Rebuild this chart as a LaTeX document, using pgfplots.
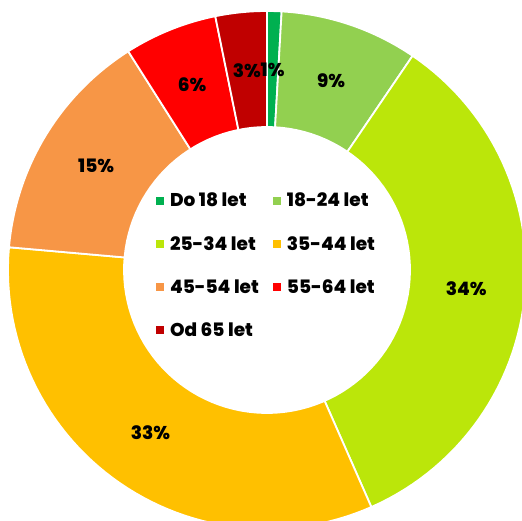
\documentclass[border=0pt]{standalone}
\usepackage{pgfplots}
\pgfplotsset{compat=1.18}
\usepackage{fontspec}
\setmainfont{Poppins}[BoldFont={Poppins ExtraBold}]
\definecolor{c1}{HTML}{00B050}
\definecolor{c2}{HTML}{92D050}
\definecolor{c3}{HTML}{BBE60A}
\definecolor{c4}{HTML}{FFC000}
\definecolor{c5}{HTML}{F79646}
\definecolor{c6}{HTML}{FF0000}
\definecolor{c7}{HTML}{C00000}
\begin{document}
\begin{tikzpicture}
\begin{axis}[
  hide axis, scale only axis, width=522pt, height=520pt,
  xmin=0, xmax=522, ymin=0, ymax=520, clip=true,
  legend columns=2,
  legend style={at={(axis cs:266.5,254.5)}, anchor=center, draw=none, fill=none,
    font=\fontsize{18.5}{19}\selectfont\bfseries,
    /tikz/every odd column/.append style={column sep=4pt},
    /tikz/every even column/.append style={column sep=12pt},
    row sep=24pt, inner sep=0pt},
  legend cell align=left,
  legend image code/.code={\fill[#1, draw=none] (0pt,-4pt) rectangle (8pt,4pt);},
  every axis plot/.append style={draw=white, line width=1.8pt, samples=60, variable=\t},
]
% slices: cumulative share in percent, clockwise from the top
\addplot[fill=c1, domain=0:0.9]    ({267+259*sin(3.6*\t)},{250+259*cos(3.6*\t)}) -- (axis cs:267,250) -- cycle;
\addlegendentry{Do 18 let}
\addplot[fill=c2, domain=0.9:9.5]  ({267+259*sin(3.6*\t)},{250+259*cos(3.6*\t)}) -- (axis cs:267,250) -- cycle;
\addlegendentry{18-24 let}
\addplot[fill=c3, domain=9.5:43.4] ({267+259*sin(3.6*\t)},{250+259*cos(3.6*\t)}) -- (axis cs:267,250) -- cycle;
\addlegendentry{25-34 let}
\addplot[fill=c4, domain=43.4:76.4] ({267+259*sin(3.6*\t)},{250+259*cos(3.6*\t)}) -- (axis cs:267,250) -- cycle;
\addlegendentry{35-44 let}
\addplot[fill=c5, domain=76.4:91.0] ({267+259*sin(3.6*\t)},{250+259*cos(3.6*\t)}) -- (axis cs:267,250) -- cycle;
\addlegendentry{45-54 let}
\addplot[fill=c6, domain=91.0:96.8] ({267+259*sin(3.6*\t)},{250+259*cos(3.6*\t)}) -- (axis cs:267,250) -- cycle;
\addlegendentry{55-64 let}
\addplot[fill=c7, domain=96.8:100] ({267+259*sin(3.6*\t)},{250+259*cos(3.6*\t)}) -- (axis cs:267,250) -- cycle;
\addlegendentry{Od 65 let}
% hole
\addplot[fill=white, forget plot, domain=0:100, samples=120] ({267+143*sin(3.6*\t)},{250+143*cos(3.6*\t)}) -- cycle;
% labels at mid-angle
\begin{scope}[every node/.style={font=\fontsize{18.5}{19}\selectfont\bfseries}]
\node at (axis cs:{267+200*sin(3.6*0.45)},{250+200*cos(3.6*0.45)}) {1\%};
\node at (axis cs:{267+200*sin(3.6*5.2)},{250+200*cos(3.6*5.2)}) {9\%};
\node at (axis cs:{267+200*sin(3.6*26.45)},{250+200*cos(3.6*26.45)}) {34\%};
\node at (axis cs:{267+200*sin(3.6*59.9)},{250+200*cos(3.6*59.9)}) {33\%};
\node at (axis cs:{267+200*sin(3.6*83.7)},{250+200*cos(3.6*83.7)}) {15\%};
\node at (axis cs:{267+200*sin(3.6*93.9)},{250+200*cos(3.6*93.9)}) {6\%};
\node at (axis cs:{267+200*sin(3.6*98.4)},{250+200*cos(3.6*98.4)}) {3\%};
\end{scope}
\end{axis}
\pgfresetboundingbox
\path (current axis.south west) rectangle (current axis.north east);
\end{tikzpicture}
\end{document}
